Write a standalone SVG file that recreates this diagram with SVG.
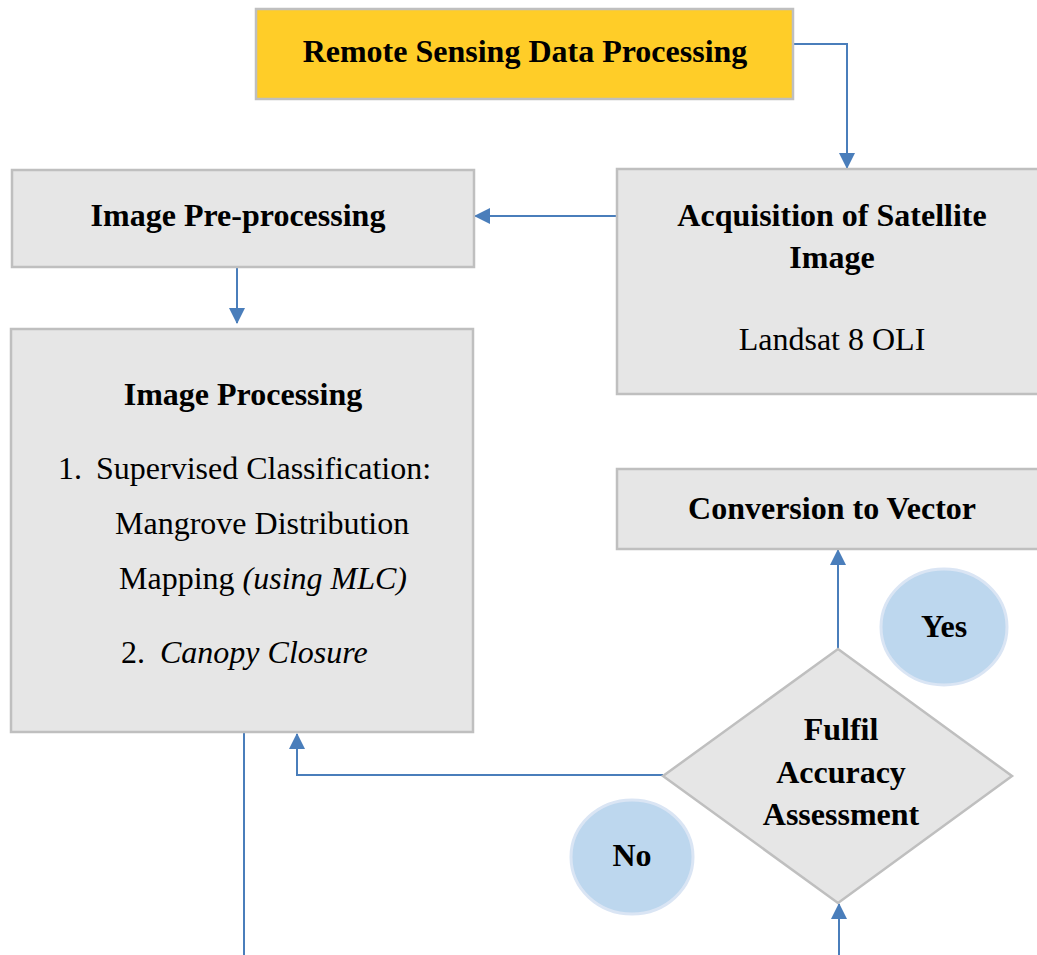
<svg xmlns="http://www.w3.org/2000/svg" width="1037" height="955" viewBox="0 0 1037 955">
<style>
.box{fill:#E6E6E6;stroke:#BFBFBF;stroke-width:2.5}
.top{fill:#FFCD28;stroke:#BFBFBF;stroke-width:2.5}
.oval{fill:#BDD7EE;stroke:#DAE5F4;stroke-width:3}
.t{font-family:"Liberation Serif","Times New Roman",serif;font-size:32px;fill:#000}
.b{font-weight:bold}
.i{font-style:italic}
.c{text-anchor:middle}
.con{fill:none;stroke:#4A7EBB;stroke-width:2}
</style>
<defs>
<marker id="ah" markerUnits="userSpaceOnUse" markerWidth="16" markerHeight="16" viewBox="0 0 16 16" refX="15" refY="8" orient="auto">
<path d="M0,0 L16,8 L0,16 Z" fill="#4A7EBB"/>
</marker>
</defs>
<rect width="1037" height="955" fill="#fff"/>
<g id="connectors">
<path class="con" d="M793,44 H847 V168" marker-end="url(#ah)"/>
<path class="con" d="M617,216 H475" marker-end="url(#ah)"/>
<path class="con" d="M237,267 V323" marker-end="url(#ah)"/>
<path class="con" d="M838,649 V550" marker-end="url(#ah)"/>
<path class="con" d="M663,775 H297 V734" marker-end="url(#ah)"/>
<path class="con" d="M244,733 V955"/>
<path class="con" d="M839,955 V904" marker-end="url(#ah)"/>
</g>
<g id="remote-sensing">
<rect class="top" x="256" y="9" width="537" height="90"/>
<text class="t b c" x="525" y="62">Remote Sensing Data Processing</text>
</g>
<g id="pre-processing">
<rect class="box" x="12" y="170" width="462" height="97"/>
<text class="t b c" x="238" y="226">Image Pre-processing</text>
</g>
<g id="acquisition">
<rect class="box" x="617" y="169" width="430" height="225"/>
<text class="t b c" x="832" y="226">Acquisition of Satellite</text>
<text class="t b c" x="832" y="268">Image</text>
<text class="t c" x="832" y="350">Landsat 8 OLI</text>
</g>
<g id="image-processing">
<rect class="box" x="11" y="329" width="462" height="403"/>
<text class="t b c" x="243" y="405">Image Processing</text>
<text class="t" x="58" y="479">1.</text>
<text class="t" x="96" y="479">Supervised Classification:</text>
<text class="t" x="115" y="534">Mangrove Distribution</text>
<text class="t" x="119" y="589">Mapping <tspan class="i">(using MLC)</tspan></text>
<text class="t" x="121" y="663">2.</text>
<text class="t i" x="160" y="663">Canopy Closure</text>
</g>
<g id="conversion">
<rect class="box" x="617" y="469" width="430" height="80"/>
<text class="t b c" x="832" y="519">Conversion to Vector</text>
</g>
<g id="yes">
<ellipse class="oval" cx="944" cy="627" rx="63" ry="58"/>
<text class="t b c" x="944" y="637">Yes</text>
</g>
<g id="accuracy">
<path class="box" d="M838,649 L1012,776 L838,903 L663,776 Z"/>
<text class="t b c" x="841" y="740">Fulfil</text>
<text class="t b c" x="841" y="783">Accuracy</text>
<text class="t b c" x="841" y="825">Assessment</text>
</g>
<g id="no">
<ellipse class="oval" cx="632" cy="857" rx="61" ry="57"/>
<text class="t b c" x="632" y="866">No</text>
</g>
</svg>
